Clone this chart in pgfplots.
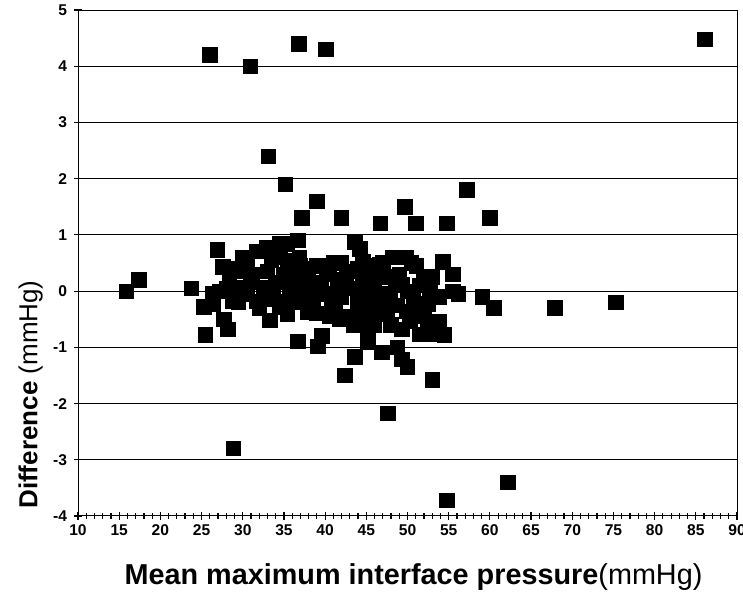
\documentclass[border=0pt]{standalone}
\usepackage{pgfplots}
\pgfplotsset{compat=1.18}
\usepackage{fontspec}
\setmainfont{Liberation Sans}
\usetikzlibrary{calc}

\begin{document}
\begin{tikzpicture}
\begin{axis}[
  name=ax,
  scale only axis,
  width=329.5pt, height=253pt,
  xmin=10, xmax=90,
  ymin=-4, ymax=5,
  xtick={10,15,...,90},
  ytick={-4,-3,...,5},
  minor x tick num=4,
  ymajorgrids,
  grid style={black, line width=0.5pt},
  axis line style={black, line width=0.5pt},
  xtick align=center,
  ytick align=center,
  major tick length=4pt,
  minor tick length=3pt,
  tick style={black, line width=0.6pt},
  xtick pos=bottom, ytick pos=left,
  /pgf/number format/assume math mode=true,
  ticklabel style={font=\fontsize{7.8}{8}\selectfont\bfseries},
  xticklabel style={yshift=1pt},
  xlabel={\textbf{Mean maximum interface pressure}(mmHg)},
  ylabel={\textbf{Difference} (mmHg)},
  xlabel style={font=\fontsize{14.4}{16}\selectfont, yshift=-7pt, xshift=3pt},
  ylabel style={font=\fontsize{13}{15}\selectfont,
    at={(axis description cs:-0.072,0.24)}, anchor=center},
  clip=false,
]
\addplot[only marks, mark=square*, mark size=3.6pt, black] coordinates {
(15.9,0.0) (17.4,0.2) (23.8,0.05) (26.0,4.2) (30.9,4.0) (36.8,4.4) (40.1,4.3) (86.1,4.48)
(33.1,2.4) (35.2,1.9) (39.0,1.6) (37.2,1.3) (42.0,1.3) (46.7,1.2) (49.7,1.5) (51.0,1.2)
(54.8,1.2) (57.2,1.8) (60.0,1.3) (59.1,-0.1) (60.5,-0.3) (67.9,-0.3) (75.3,-0.2)
(62.2,-3.4) (54.8,-3.72) (28.9,-2.8) (47.6,-2.17) (53.0,-1.58) (42.4,-1.5) (43.6,-1.17)
(46.9,-1.09) (48.8,-1.0) (49.3,-1.21) (50.0,-1.35) (39.1,-0.98) (39.6,-0.8) (36.7,-0.89)
(25.5,-0.78) (28.2,-0.68) (27.7,-0.5) (33.3,-0.52) (45.2,-0.73) (45.2,-0.91) (49.3,-0.68)
(51.5,-0.77) (52.4,-0.62) (53.9,-0.55) (54.5,-0.78) (26.9,0.73)
(25.3,-0.28) (26.3,-0.05) (26.4,-0.23) (27.2,0.0) (27.6,0.43) (28.4,0.25) (28.8,-0.18)
(29.3,0.07) (30.0,0.6) (30.5,-0.05) (31.1,0.3) (31.7,0.71) (31.7,-0.18) (32.5,0.07)
(32.9,0.78) (33.7,0.0) (34.5,0.6) (34.5,0.84) (34.9,0.3) (34.5,-0.28) (35.4,0.84)
(35.4,0.43) (35.7,0.07) (35.4,-0.18) (35.4,-0.41) (36.7,0.9) (36.9,0.6) (37.3,-0.1)
(37.8,0.25) (37.9,-0.37) (38.5,0.0) (39.0,-0.4) (40.2,0.3) (40.2,-0.05) (41.2,-0.37)
(41.8,0.07) (41.8,-0.5) (42.6,0.3) (42.6,-0.46) (43.0,-0.5) (43.6,0.87) (43.9,-0.18)
(44.2,0.75) (44.6,0.53) (44.6,0.0) (44.6,-0.36) (45.8,0.3) (46.3,-0.18) (46.3,-0.41)
(46.6,0.48) (47.0,-0.05) (47.5,0.25) (47.5,-0.36) (47.9,-0.1) (48.2,0.6) (49.4,0.12)
(49.9,0.6) (49.9,-0.36) (50.3,-0.53) (50.7,-0.1) (51.1,0.45) (51.9,0.25) (52.5,-0.23)
(52.7,0.0) (52.7,-0.77) (53.9,-0.1) (53.9,-0.59) (54.3,0.52) (55.5,0.3) (55.5,0.0)
(56.2,-0.05)
(29.5,-0.2) (30.2,0.35) (31.0,0.15) (32.0,-0.3) (33.0,0.35) (33.5,-0.15) (34.0,0.15)
(36.0,0.2) (36.5,-0.2) (37.0,0.05) (38.0,0.4) (38.5,-0.2) (39.5,0.15) (40.5,0.45)
(40.8,-0.25) (41.5,0.2) (42.0,-0.1) (42.5,0.1) (43.2,0.35) (43.5,0.05) (44.0,-0.4)
(44.5,0.2) (45.0,0.05) (45.5,-0.1) (45.5,0.45) (46.0,0.15) (48.5,0.1) (48.8,-0.25)
(49.0,0.3) (50.0,0.0) (50.5,0.5) (51.0,-0.3) (51.5,0.1) (52.0,-0.45) (53.0,0.25)
(33.5,0.55) (29.0,0.4) (28.0,0.05) (30.5,0.55) (36.0,0.55) (37.0,0.45) (39.0,0.45)
(41.0,0.5) (42.0,0.5) (44.0,0.4) (47.0,0.5) (48.0,-0.6) (46.0,-0.6) (45.0,-0.5)
(43.5,-0.6) (40.5,-0.45)
};
\end{axis}
\pgfresetboundingbox
\path ($(ax.south west)+(-39pt,-42pt)$) rectangle ($(ax.north east)+(3pt,5pt)$);
\end{tikzpicture}
\end{document}
